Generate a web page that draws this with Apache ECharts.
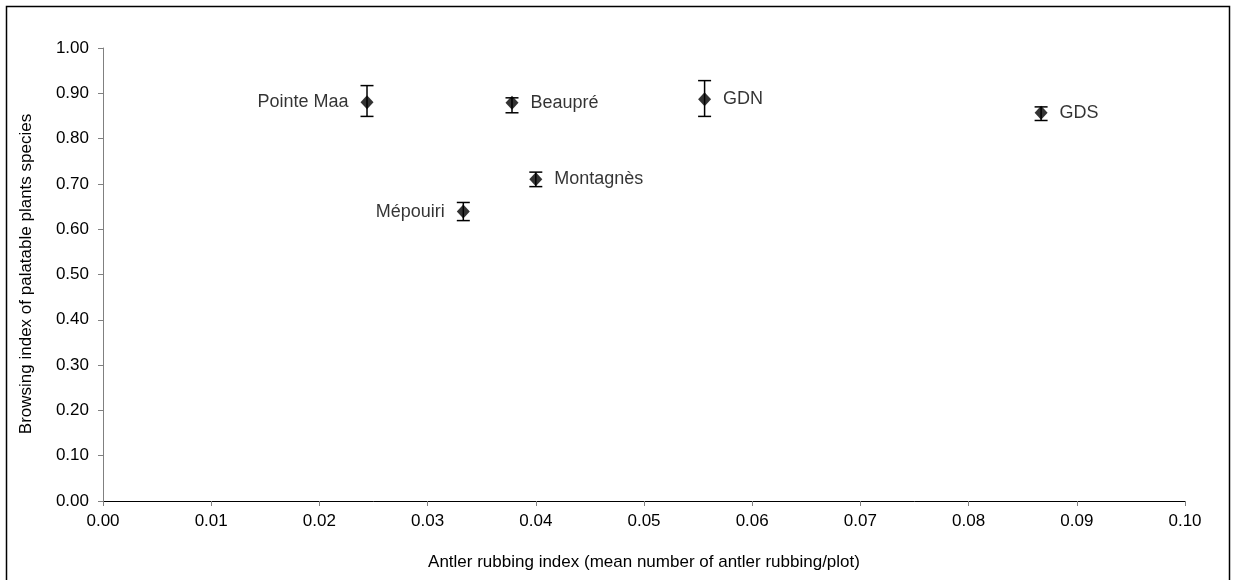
<!DOCTYPE html>
<html><head><meta charset="utf-8">
<script src="https://cdn.jsdelivr.net/npm/echarts@6/dist/echarts.min.js"></script>
<style>html,body{margin:0;padding:0;background:#fff}#c{width:1235px;height:580px}</style>
</head><body><div id="c"></div>
<script>
const siteNames = ['Pointe Maa','Beaupré','GDN','GDS','Montagnès','Mépouiri'];
const rubbingIndex = [0.0244, 0.0378, 0.0556, 0.0867, 0.0400, 0.0333];
const browsingIndex = [0.880, 0.879, 0.887, 0.857, 0.710, 0.639];
const errLow = [0.849, 0.857, 0.849, 0.840, 0.694, 0.619];
const errHigh = [0.917, 0.890, 0.928, 0.870, 0.726, 0.659];
const labelLeft = ['Pointe Maa','Mépouiri'];

const FONT = '"Liberation Sans", Arial, sans-serif';
const chart = echarts.init(document.getElementById('c'), null, {renderer:'canvas'});
const pts = siteNames.map((n,i)=>({
  name:n, value:[rubbingIndex[i], browsingIndex[i]],
  label:{position: labelLeft.includes(n)?'left':'right'}
}));
const errData = siteNames.map((n,i)=>[rubbingIndex[i], errLow[i], errHigh[i]]);
chart.setOption({
  animation:false,
  grid:{left:103, right:50, top:48, bottom:79, containLabel:false},
  xAxis:{type:'value', min:0, max:0.1, interval:0.01,
    axisLine:{lineStyle:{color:'#000', width:1}},
    axisTick:{inside:false, length:5, lineStyle:{color:'#808080'}},
    splitLine:{show:false},
    axisLabel:{margin:12, color:'#000', fontSize:17, fontFamily:FONT, formatter:v=>v.toFixed(2)}
  },
  yAxis:{type:'value', min:0, max:1, interval:0.1,
    axisLine:{show:true, lineStyle:{color:'#808080', width:1}},
    axisTick:{show:true, inside:false, length:5, lineStyle:{color:'#808080'}},
    splitLine:{show:false},
    axisLabel:{margin:14, color:'#000', fontSize:17, fontFamily:FONT, formatter:v=>v.toFixed(2)}
  },
  graphic:[
    {type:'rect', shape:{x:6.5, y:6.5, width:1223, height:600}, style:{fill:'none', stroke:'#000', lineWidth:1.5}, silent:true},
    {type:'text', x:26, y:274, rotation:Math.PI/2, style:{text:'Browsing index of palatable plants species', fill:'#000', font:'17px '+FONT, textAlign:'center', textVerticalAlign:'middle'}},
    {type:'text', x:644, y:562, style:{text:'Antler rubbing index (mean number of antler rubbing/plot)', fill:'#000', font:'17px '+FONT, textAlign:'center', textVerticalAlign:'middle'}}
  ],
  series:[
    {type:'custom', data:errData, z:2,
      renderItem:(params, api)=>{
        const x = api.value(0);
        const lo = api.coord([x, api.value(1)]);
        const hi = api.coord([x, api.value(2)]);
        const w = 6.5;
        const st = {stroke:'#000', lineWidth:1.5};
        return {type:'group', children:[
          {type:'line', shape:{x1:lo[0], y1:lo[1], x2:hi[0], y2:hi[1]}, style:st},
          {type:'line', shape:{x1:lo[0]-w, y1:lo[1], x2:lo[0]+w, y2:lo[1]}, style:st},
          {type:'line', shape:{x1:hi[0]-w, y1:hi[1], x2:hi[0]+w, y2:hi[1]}, style:st}
        ]};
      }
    },
    {type:'scatter', data:pts, symbol:'diamond', symbolSize:[13,14], z:3,
      itemStyle:{color:'#000'},
      label:{show:true, formatter:'{b}', color:'#000', fontSize:18, fontFamily:FONT, distance:12}
    }
  ]
});
</script></body></html>
